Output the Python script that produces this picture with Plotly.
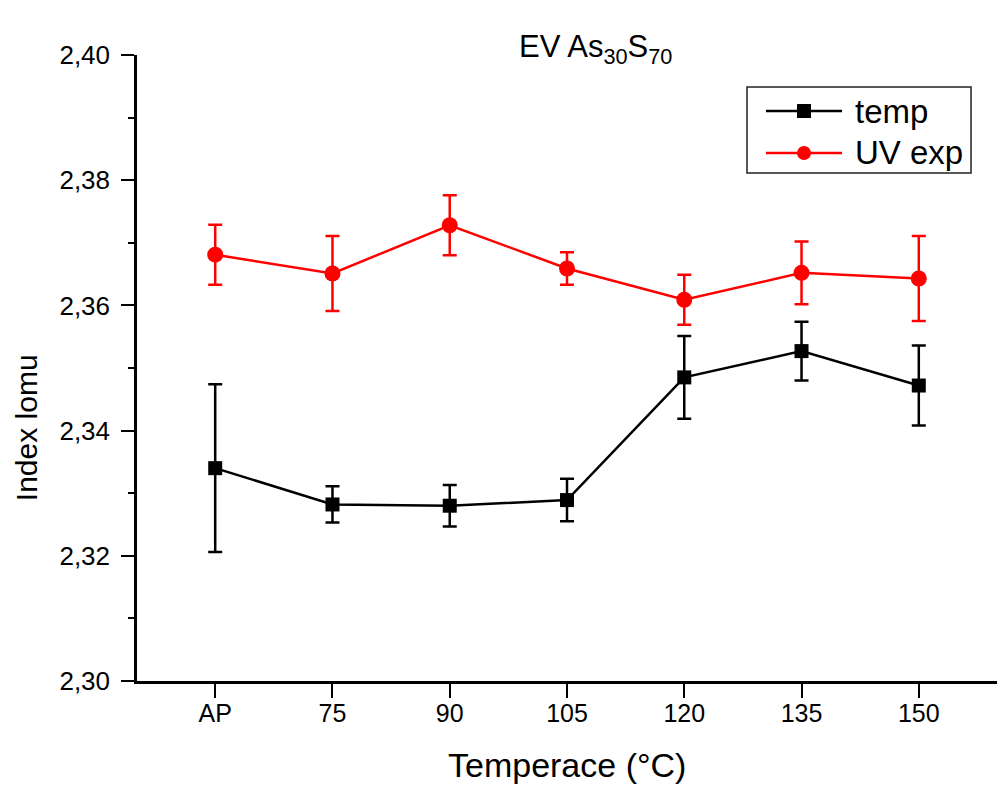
import plotly.graph_objects as go

# Refractive index vs. annealing temperature for EV As30S70 films
categories = ["AP", "75", "90", "105", "120", "135", "150"]

temp_vals = [2.3340, 2.3282, 2.3280, 2.3289, 2.3485, 2.3527, 2.3472]
temp_err = [0.0134, 0.0029, 0.0033, 0.0034, 0.0066, 0.0047, 0.0064]

uv_vals = [2.3681, 2.3651, 2.3728, 2.3659, 2.3609, 2.3652, 2.3643]
uv_err = [0.0048, 0.0060, 0.0048, 0.0026, 0.0040, 0.0050, 0.0068]

series_names = ["temp", "UV exp"]
series_colors = ["#000000", "#ff0000"]

xpos = list(range(len(categories)))
FONT = "Liberation Sans, Arial, sans-serif"

fig = go.Figure()
fig.add_trace(go.Scatter(
    x=xpos, y=temp_vals, name=series_names[0], mode="lines+markers",
    line=dict(color=series_colors[0], width=2.5),
    marker=dict(symbol="square", size=14, color=series_colors[0]),
    error_y=dict(type="data", array=temp_err, color=series_colors[0], thickness=2.5, width=7),
    showlegend=False,
))
fig.add_trace(go.Scatter(
    x=xpos, y=uv_vals, name=series_names[1], mode="lines+markers",
    line=dict(color=series_colors[1], width=2.5),
    marker=dict(symbol="circle", size=16, color=series_colors[1]),
    error_y=dict(type="data", array=uv_err, color=series_colors[1], thickness=2.5, width=7),
    showlegend=False,
))

# Legend box drawn in paper coordinates, Origin style (long line sample)
shapes = [dict(type="rect", xref="paper", yref="paper",
               x0=0.7093, x1=0.9698, y0=0.8115, y1=0.9489,
               line=dict(color="#222222", width=1.5), fillcolor="white", layer="above")]
annotations = []
legend_rows = [0.9105, 0.8435]
for i, (name, color) in enumerate(zip(series_names, series_colors)):
    yy = legend_rows[i]
    shapes.append(dict(type="line", xref="paper", yref="paper",
                       x0=0.7314, x1=0.8198, y0=yy, y1=yy,
                       line=dict(color=color, width=2.5), layer="above"))
    shapes.append(dict(type="rect" if i == 0 else "circle",
                       xref="paper", yref="paper",
                       xsizemode="pixel", ysizemode="pixel",
                       xanchor=0.7756, yanchor=yy,
                       x0=-7, x1=7, y0=-7, y1=7,
                       line=dict(color=color, width=0), fillcolor=color, layer="above"))
    annotations.append(dict(text=name, x=0.8326, y=yy, xref="paper", yref="paper",
                            xanchor="left", yanchor="middle", showarrow=False,
                            font=dict(size=33, family=FONT, color="black")))

annotations += [
    dict(text="EV As<sub>30</sub>S<sub>70</sub>", x=0.5326, y=1.045,
         xref="paper", yref="paper", xanchor="center", yanchor="top",
         showarrow=False, font=dict(size=31, family=FONT)),
    dict(text="Index lomu", x=-0.129, y=0.404, xref="paper", yref="paper",
         xanchor="center", yanchor="middle", textangle=-90, showarrow=False,
         font=dict(size=30, family=FONT)),
    dict(text="Temperace (°C)", x=0.5, y=-0.134, xref="paper", yref="paper",
         xanchor="center", yanchor="middle", showarrow=False,
         font=dict(size=34, family=FONT)),
]

fig.update_layout(
    width=1002, height=785,
    margin=dict(l=137, r=5, t=55, b=104),
    paper_bgcolor="white", plot_bgcolor="white",
    separators=",.",
    font=dict(family=FONT, color="black", size=20),
    showlegend=False,
    shapes=shapes,
    annotations=annotations,
)

fig.update_xaxes(
    range=[-0.667, 6.667],
    tickvals=xpos, ticktext=categories,
    showline=True, linecolor="black", linewidth=2.5,
    ticks="outside", ticklen=14, tickwidth=2, tickcolor="black",
    ticklabelstandoff=-6,
    showgrid=False, zeroline=False,
    tickfont=dict(size=25, family=FONT),
)
fig.update_yaxes(
    range=[2.30, 2.40],
    tickvals=[2.30, 2.32, 2.34, 2.36, 2.38, 2.40],
    tickformat=".2f",
    showline=True, linecolor="black", linewidth=2.5,
    ticks="outside", ticklen=13, tickwidth=2, tickcolor="black",
    ticklabelstandoff=6,
    minor=dict(tickvals=[2.31, 2.33, 2.35, 2.37, 2.39], ticks="outside",
               ticklen=6, tickwidth=2, tickcolor="black"),
    showgrid=False, zeroline=False,
    tickfont=dict(size=26, family=FONT),
)

fig.write_html("out.html")
